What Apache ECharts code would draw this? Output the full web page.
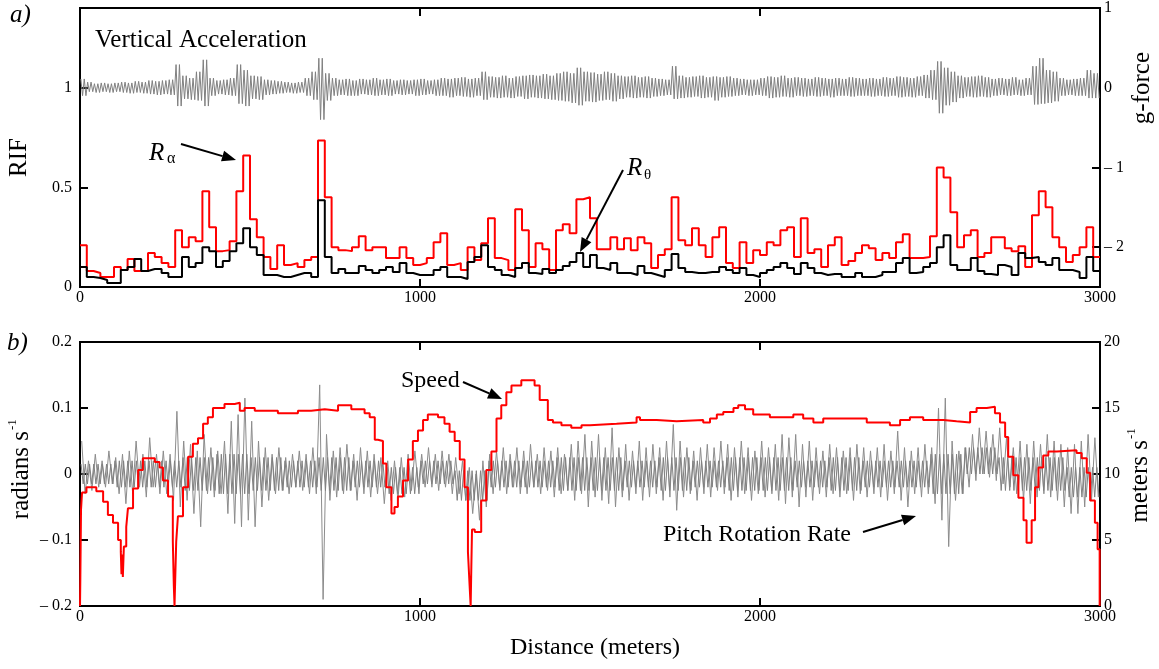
<!DOCTYPE html>
<html>
<head>
<meta charset="utf-8">
<script src="https://cdn.jsdelivr.net/npm/echarts@6/dist/echarts.min.js"></script>
<style>html,body{margin:0;padding:0;background:#fff;}#c{width:1159px;height:669px;}</style>
</head>
<body>
<div id="c"></div>
<script>
// ---------- DATA ----------
const BIN = 20;       // metres per step of the RIF / noise envelopes
const CORE_BIN = 100; // metres per bin of the pitch-rate core band
const xTicks = [0, 1000, 2000, 3000];

// R_alpha (red, RIF)
const raVals = [
0.21,0.08,0.07,0.05,0.05,0.1,0.085,0.14,0.08,0.08,
0.17,0.15,0.12,0.10,0.285,0.2,0.25,0.23,0.48,0.3,
0.18,0.185,0.23,0.48,0.66,0.34,0.25,0.15,0.09,0.21,
0.11,0.12,0.10,0.135,0.15,0.735,0.45,0.2,
0.185,0.18,0.2,0.255,0.185,0.2,0.2,0.145,0.145,0.2,
0.145,0.11,0.12,0.145,0.225,0.27,0.11,0.12,0.085,0.2,
0.135,0.22,0.345,0.145,0.135,0.085,0.39,0.285,0.10,0.22,
0.19,0.085,0.285,0.315,0.27,0.44,0.45,0.345,
0.19,0.19,0.25,0.19,0.245,0.185,0.25,0.22,0.095,0.16,
0.19,0.45,0.235,0.21,0.295,0.21,0.15,0.25,0.3,0.12,
0.095,0.225,0.12,0.185,0.16,0.225,0.21,0.285,0.3,0.15,
0.345,0.17,0.19,0.10,0.21,0.25,0.11,
0.13,0.17,0.21,0.195,0.135,0.17,0.145,0.225,0.265,0.145,
0.145,0.15,0.255,0.6,0.55,0.375,0.2,0.26,0.285,0.15,
0.17,0.25,0.25,0.195,0.18,0.205,0.10,0.36,0.48,0.4,
0.25,0.2,0.125,0.16,0.2,0.3,0.15];

// R_theta (black, RIF)
const rtVals = [
0.10,0.05,0.045,0.035,0.02,0.02,0.085,0.10,0.14,0.08,
0.09,0.09,0.07,0.05,0.05,0.15,0.10,0.12,0.2,0.18,
0.10,0.13,0.18,0.22,0.295,0.2,0.16,0.06,0.06,0.05,
0.05,0.06,0.07,0.07,0.05,0.435,0.15,0.07,
0.09,0.07,0.07,0.105,0.085,0.07,0.085,0.10,0.075,0.12,
0.07,0.06,0.06,0.06,0.085,0.1,0.05,0.05,0.04,0.125,
0.15,0.21,0.10,0.085,0.06,0.05,0.095,0.12,0.07,0.065,
0.09,0.07,0.085,0.105,0.125,0.17,0.1,0.16,
0.095,0.085,0.12,0.07,0.07,0.06,0.105,0.07,0.06,0.05,
0.085,0.165,0.095,0.075,0.07,0.07,0.075,0.075,0.1,0.085,
0.07,0.095,0.06,0.05,0.07,0.085,0.1,0.12,0.095,0.065,
0.12,0.095,0.07,0.06,0.065,0.065,0.05,
0.05,0.07,0.05,0.05,0.06,0.075,0.075,0.12,0.145,0.07,
0.075,0.1,0.12,0.2,0.26,0.11,0.085,0.085,0.145,0.08,
0.065,0.06,0.11,0.1,0.06,0.17,0.145,0.15,0.125,0.11,
0.145,0.085,0.085,0.075,0.045,0.15,0.08];

// Vertical acceleration envelope (g), upper and lower per 20 m
const vaHi = [
0.11,0.07,0.05,0.06,0.05,0.06,0.07,0.06,0.08,0.07,
0.09,0.08,0.09,0.1,0.29,0.15,0.12,0.2,0.35,0.12,
0.09,0.1,0.12,0.29,0.22,0.15,0.14,0.1,0.09,0.08,
0.07,0.06,0.07,0.12,0.2,0.37,0.18,0.12,0.1,0.11,
0.09,0.11,0.1,0.12,0.1,0.11,0.09,0.1,0.09,0.1,
0.11,0.09,0.1,0.12,0.11,0.12,0.13,0.11,0.12,0.2,
0.14,0.13,0.15,0.12,0.14,0.15,0.16,0.15,0.17,0.15,
0.18,0.2,0.18,0.25,0.2,0.19,0.17,0.2,0.18,0.15,
0.14,0.15,0.13,0.14,0.12,0.11,0.1,0.27,0.15,0.13,
0.14,0.15,0.13,0.14,0.13,0.14,0.12,0.11,0.1,0.1,
0.12,0.14,0.13,0.15,0.12,0.13,0.12,0.11,0.13,0.12,
0.11,0.12,0.11,0.13,0.12,0.11,0.12,0.11,0.13,0.12,
0.14,0.13,0.12,0.14,0.16,0.22,0.33,0.25,0.2,0.15,
0.13,0.14,0.15,0.13,0.11,0.12,0.11,0.13,0.1,0.12,
0.27,0.37,0.22,0.2,0.12,0.1,0.11,0.12,0.22,0.18];
const vaLo = [
-0.1,-0.05,-0.06,-0.05,-0.06,-0.05,-0.06,-0.07,-0.06,-0.07,
-0.08,-0.09,-0.08,-0.09,-0.23,-0.14,-0.15,-0.16,-0.23,-0.1,
-0.08,-0.09,-0.1,-0.2,-0.23,-0.14,-0.15,-0.09,-0.08,-0.07,
-0.06,-0.07,-0.06,-0.1,-0.15,-0.4,-0.16,-0.1,-0.09,-0.1,
-0.1,-0.08,-0.09,-0.1,-0.09,-0.1,-0.08,-0.09,-0.08,-0.1,
-0.09,-0.08,-0.1,-0.1,-0.12,-0.1,-0.11,-0.12,-0.1,-0.15,
-0.12,-0.13,-0.12,-0.13,-0.11,-0.14,-0.12,-0.13,-0.14,-0.15,
-0.16,-0.17,-0.19,-0.22,-0.17,-0.18,-0.16,-0.15,-0.17,-0.14,
-0.12,-0.13,-0.12,-0.13,-0.11,-0.1,-0.09,-0.14,-0.13,-0.12,
-0.11,-0.13,-0.12,-0.16,-0.12,-0.11,-0.1,-0.09,-0.1,-0.09,
-0.1,-0.13,-0.12,-0.11,-0.12,-0.1,-0.11,-0.1,-0.11,-0.1,
-0.12,-0.1,-0.1,-0.11,-0.1,-0.1,-0.11,-0.1,-0.11,-0.1,
-0.12,-0.11,-0.12,-0.1,-0.13,-0.15,-0.32,-0.22,-0.18,-0.13,
-0.11,-0.12,-0.11,-0.12,-0.1,-0.09,-0.1,-0.09,-0.1,-0.09,
-0.21,-0.2,-0.19,-0.17,-0.1,-0.09,-0.1,-0.1,-0.13,-0.13];

// Pitch rotation rate spike envelope (rad/s), upper and lower per 20 m
const pitchHi = [
0.05,0.02,0.03,0.02,0.035,0.025,0.03,0.035,0.05,0.03,
0.055,0.03,0.035,0.03,0.095,0.05,0.045,0.035,0.06,0.04,
0.035,0.05,0.08,0.09,0.115,0.08,0.05,0.04,0.03,0.04,
0.025,0.03,0.035,0.03,0.04,0.135,0.06,0.035,0.04,0.045,
0.03,0.04,0.035,0.03,0.025,0.02,0.02,0.025,0.03,0.035,
0.03,0.04,0.03,0.035,0.03,0.025,0.02,0.01,0.0,0.02,
0.03,0.035,0.04,0.03,0.04,0.035,0.045,0.03,0.04,0.035,
0.04,0.03,0.045,0.05,0.06,0.05,0.06,0.04,0.07,0.04,
0.045,0.035,0.05,0.04,0.045,0.04,0.05,0.075,0.05,0.04,
0.035,0.04,0.045,0.04,0.05,0.045,0.04,0.05,0.04,0.035,
0.05,0.04,0.045,0.06,0.055,0.06,0.045,0.05,0.04,0.035,
0.045,0.04,0.035,0.04,0.045,0.04,0.035,0.04,0.045,0.035,
0.065,0.04,0.035,0.04,0.045,0.04,0.1,0.115,0.05,0.035,
0.04,0.06,0.07,0.065,0.06,0.07,0.055,0.04,0.05,0.045,
0.05,0.045,0.06,0.05,0.045,0.04,0.045,0.05,0.06,0.055];
const pitchLo = [
-0.03,-0.025,-0.02,-0.02,-0.015,-0.03,-0.045,-0.03,-0.02,-0.035,
-0.02,-0.03,-0.03,-0.04,-0.05,-0.04,-0.06,-0.08,-0.03,-0.035,
-0.03,-0.06,-0.075,-0.08,-0.07,-0.08,-0.05,-0.04,-0.03,-0.025,
-0.03,-0.02,-0.025,-0.03,-0.03,-0.19,-0.04,-0.035,-0.03,-0.025,
-0.04,-0.03,-0.035,-0.03,-0.045,-0.04,-0.04,-0.035,-0.025,-0.02,
-0.02,-0.02,-0.025,-0.02,-0.03,-0.03,-0.04,-0.06,-0.07,-0.05,
-0.03,-0.025,-0.03,-0.02,-0.03,-0.03,-0.02,-0.03,-0.025,-0.035,
-0.03,-0.025,-0.04,-0.03,-0.05,-0.035,-0.04,-0.045,-0.05,-0.035,
-0.04,-0.03,-0.04,-0.035,-0.03,-0.04,-0.035,-0.055,-0.035,-0.03,
-0.04,-0.03,-0.035,-0.025,-0.03,-0.04,-0.035,-0.03,-0.04,-0.03,
-0.035,-0.03,-0.04,-0.045,-0.035,-0.05,-0.035,-0.04,-0.03,-0.035,
-0.03,-0.035,-0.03,-0.04,-0.03,-0.035,-0.03,-0.035,-0.04,-0.03,
-0.04,-0.05,-0.03,-0.035,-0.03,-0.045,-0.07,-0.11,-0.04,-0.03,
-0.02,-0.01,0.0,-0.005,-0.01,-0.015,-0.02,-0.03,-0.04,-0.045,
-0.035,-0.03,-0.035,-0.04,-0.05,-0.06,-0.06,-0.05,-0.04,-0.035];

// Pitch rotation rate dense core band (rad/s), upper and lower per 100 m
const pitchCoreHi = [0.015,0.02,0.02,0.025,0.03,0.025,0.02,0.025,0.02,0.01,
0.02,0.005,0.02,0.02,0.025,0.025,0.02,0.025,0.02,0.025,
0.025,0.02,0.025,0.02,0.02,0.03,0.04,0.025,0.025,0.01];
const pitchCoreLo = [-0.015,-0.02,-0.02,-0.025,-0.03,-0.025,-0.02,-0.025,-0.02,-0.03,
-0.015,-0.04,-0.02,-0.02,-0.025,-0.025,-0.02,-0.025,-0.02,-0.025,
-0.025,-0.02,-0.025,-0.02,-0.02,-0.03,0.0,-0.025,-0.025,-0.035];

// Speed (m/s): value holds from each distance to the next
const speedDist = [0,1,3,6,19,48,68,82,97,112,120,122,124,126,129,136,141,156,171,185,
220,234,244,259,273,276,278,280,283,288,303,318,332,347,362,376,391,425,455,470,
484,514,582,641,680,720,759,798,837,852,867,876,891,901,916,925,935,950,965,979,
994,1009,1023,1053,1072,1087,1102,1117,1131,1141,1146,1149,1151,1153,1161,1180,1195,1210,1225,1239,
1254,1269,1298,1337,1352,1376,1391,1416,1445,1475,1500,1578,1637,1647,1696,1755,1833,1853,1873,1892,
1922,1936,1956,1980,2029,2098,2127,2157,2186,2314,2382,2412,2441,2480,2539,2578,2618,2637,2667,2691,
2706,2721,2730,2745,2760,2775,2784,2799,2809,2819,2833,2848,2873,2931,2946,2961,2971,2985,2993,2999,3000];
const speedVal = [0,2.1,7.3,8.6,9.0,8.7,7.9,6.9,6.3,5.0,4.1,2.4,3.9,2.2,4.5,6.0,7.4,8.9,10.3,11.2,
10.9,10.5,9.5,8.3,4.9,1.5,0,2.0,4.9,6.8,9.0,11.3,12.3,12.7,13.8,14.3,15.0,15.3,15.4,14.8,
15.0,14.8,14.6,14.8,14.9,14.8,15.2,14.9,14.6,14.3,12.6,12.5,10.8,9.0,7.0,7.5,8.3,9.5,11.1,12.5,
13.3,14.1,14.5,14.3,13.8,13.2,12.5,11.1,9.0,4.1,1.5,0,3.0,5.8,5.6,8.0,10.3,11.7,14.2,15.2,
16.2,16.7,17.1,16.7,15.6,14.1,13.9,13.7,13.5,13.7,13.8,13.9,14.3,14.1,14.0,14.1,13.9,14.2,14.5,14.7,
15.0,15.2,14.9,14.5,14.3,14.5,14.2,13.9,14.2,13.9,13.7,14.1,14.3,14.1,14.0,13.9,14.7,15.0,15.1,14.6,
13.9,12.8,11.3,9.9,8.2,6.5,4.8,6.5,9.0,10.5,11.4,11.7,11.8,11.6,11.2,10.1,8.0,6.3,4.3,0,0];

// tick labels
const rifLabels = [0, 0.5, 1];
const gLabels = [-2, -1, 0, 1];
const radLabels = [-0.2, -0.1, 0, 0.1, 0.2];
const mpsLabels = [0, 5, 10, 15, 20];

// ---------- BUILD ----------
const FONT = "'Liberation Serif', 'Times New Roman', serif";
const stepData = vals => { const d = vals.map((v, i) => [i * BIN, v]); d.push([vals.length * BIN, vals[vals.length - 1]]); return d; };
// alternate each bin's upper and lower reading (repeated `reps` times inside the bin)
const zig = (hi, lo, reps, bin) => { const d = []; const s = bin / (2 * reps);
  hi.forEach((h, i) => { for (let r = 0; r < reps; r++) { d.push([i * bin + (2 * r + 0.5) * s, h]); d.push([i * bin + (2 * r + 1.5) * s, lo[i]]); } }); return d; };
const speedData = speedDist.map((d, i) => [d, speedVal[i]]);
const dash = v => { const r = Math.round(v * 100) / 100; return r < 0 ? '\u2013 ' + Math.abs(r) : String(r); };

const lbl = { fontFamily: FONT, fontSize: 16, color: '#000' };
const tick = (vals) => ({ show: true, inside: true, length: 8, customValues: vals, lineStyle: { color: '#000', width: 2 } });
const xAx = (grid, pos, labels) => ({
  gridIndex: grid, type: 'value', min: 0, max: 3000, interval: 1000, position: pos,
  axisLine: { show: false, onZero: false }, splitLine: { show: false },
  axisTick: tick([1000, 2000]),
  axisLabel: labels ? Object.assign({ margin: 3, customValues: xTicks, formatter: v => String(v) }, lbl) : { show: false }
});

const grids = [
  { left: 80, right: 59, top: 8, height: 279, show: true, borderColor: '#000', borderWidth: 2, backgroundColor: 'transparent' },
  { left: 80, right: 59, top: 342, height: 264, show: true, borderColor: '#000', borderWidth: 2, backgroundColor: 'transparent' }
];

function arrow(x1, y1, x2, y2) {
  const a = Math.atan2(y2 - y1, x2 - x1), L = 14, W = 5.5;
  const bx = x2 - L * Math.cos(a), by = y2 - L * Math.sin(a);
  const px = -Math.sin(a) * W, py = Math.cos(a) * W;
  return [
    { type: 'line', shape: { x1: x1, y1: y1, x2: bx, y2: by }, style: { stroke: '#000', lineWidth: 2 }, z: 50 },
    { type: 'polygon', shape: { points: [[x2, y2], [bx + px, by + py], [bx - px, by - py]] }, style: { fill: '#000' }, z: 50 }
  ];
}
const txt = (x, y, t, size, extra) => Object.assign({ type: 'text', x: x, y: y, z: 50,
  style: Object.assign({ text: t, fontFamily: FONT, fontSize: size, fill: '#000', verticalAlign: 'middle', align: 'left' }, extra || {}) });
const vtitle = (cx, cy, main, sup, halfMain, size) => ({
  type: 'group', x: cx, y: cy, rotation: Math.PI / 2, z: 50,
  children: [
    { type: 'text', x: halfMain, y: 0, style: { text: main, fontFamily: FONT, fontSize: size, fill: '#000', align: 'right', verticalAlign: 'middle' } }
  ].concat(sup ? [{ type: 'text', x: halfMain + 1, y: -8, style: { text: sup, fontFamily: FONT, fontSize: 13, fill: '#000', align: 'left', verticalAlign: 'middle' } }] : [])
});

const graphics = [].concat(
  [txt(10, 15, 'a)', 25, { fontStyle: 'italic' }),
   txt(7, 343, 'b)', 25, { fontStyle: 'italic' }),
   txt(95, 40, 'Vertical Acceleration', 25),
   txt(149, 153, 'R', 25, { fontStyle: 'italic' }),
   txt(167, 159, '\u03b1', 16),
   txt(627, 168, 'R', 25, { fontStyle: 'italic' }),
   txt(644, 175, '\u03b8', 15),
   txt(401, 381, 'Speed', 24),
   txt(663, 535, 'Pitch Rotation Rate', 24),
   txt(595, 648, 'Distance (meters)', 24, { align: 'center' }),
   vtitle(19, 158, 'RIF', null, 20, 25),
   vtitle(1142, 90, 'g-force', null, 38, 25),
   vtitle(21, 474, 'radians s', '-1', 43, 25),
   vtitle(1140, 481, 'meters s', '-1', 41, 25)],
  arrow(181, 144, 236, 160),
  arrow(623, 170, 580, 252),
  arrow(463, 382, 502, 399),
  arrow(863, 532, 916, 516)
);

const yAx = (grid, pos, min, max, ticks, labels, margin) => ({
  gridIndex: grid, type: 'value', min: min, max: max, position: pos,
  axisLine: { show: false, onZero: false }, splitLine: { show: false },
  axisTick: tick(ticks),
  axisLabel: Object.assign({ margin: margin, customValues: labels, formatter: v => dash(v) }, lbl)
});

const option = {
  animation: false,
  backgroundColor: '#fff',
  grid: grids,
  xAxis: [xAx(0, 'bottom', true), xAx(0, 'top', false), xAx(1, 'bottom', true), xAx(1, 'top', false)],
  yAxis: [
    yAx(0, 'left', 0, 1.4, [0.5, 1], rifLabels, 8),
    yAx(0, 'right', -2.5, 1, [-2, -1], gLabels, 4),
    yAx(1, 'left', -0.2, 0.2, [-0.1, 0, 0.1], radLabels, 8),
    yAx(1, 'right', 0, 20, [5, 10, 15], mpsLabels, 4)
  ],
  series: [
    { name: 'Vertical Acceleration', type: 'line', xAxisIndex: 0, yAxisIndex: 1, data: zig(vaHi, vaLo, 2, BIN), symbol: 'none',
      lineStyle: { color: '#808080', width: 1 }, z: 2 },
    { name: 'R alpha', type: 'line', xAxisIndex: 0, yAxisIndex: 0, data: stepData(raVals), step: 'end', symbol: 'none',
      lineStyle: { color: '#ff0000', width: 2 }, z: 3 },
    { name: 'R theta', type: 'line', xAxisIndex: 0, yAxisIndex: 0, data: stepData(rtVals), step: 'end', symbol: 'none',
      lineStyle: { color: '#000', width: 2 }, z: 4 },
    { name: 'Pitch Rotation Rate', type: 'line', xAxisIndex: 2, yAxisIndex: 2, data: zig(pitchHi, pitchLo, 1, BIN), symbol: 'none',
      lineStyle: { color: '#8c8c8c', width: 1 }, z: 2 },
    { name: 'Pitch Rotation Rate core', type: 'line', xAxisIndex: 2, yAxisIndex: 2, data: zig(pitchCoreHi, pitchCoreLo, 8, CORE_BIN), symbol: 'none',
      lineStyle: { color: '#808080', width: 1 }, z: 2 },
    { name: 'Speed', type: 'line', xAxisIndex: 2, yAxisIndex: 3, data: speedData, step: 'end', symbol: 'none',
      lineStyle: { color: '#ff0000', width: 2 }, z: 3 }
  ],
  graphic: graphics
};
const chart = echarts.init(document.getElementById('c'), null, { renderer: 'canvas' });
chart.setOption(option);
</script>
</body>
</html>
